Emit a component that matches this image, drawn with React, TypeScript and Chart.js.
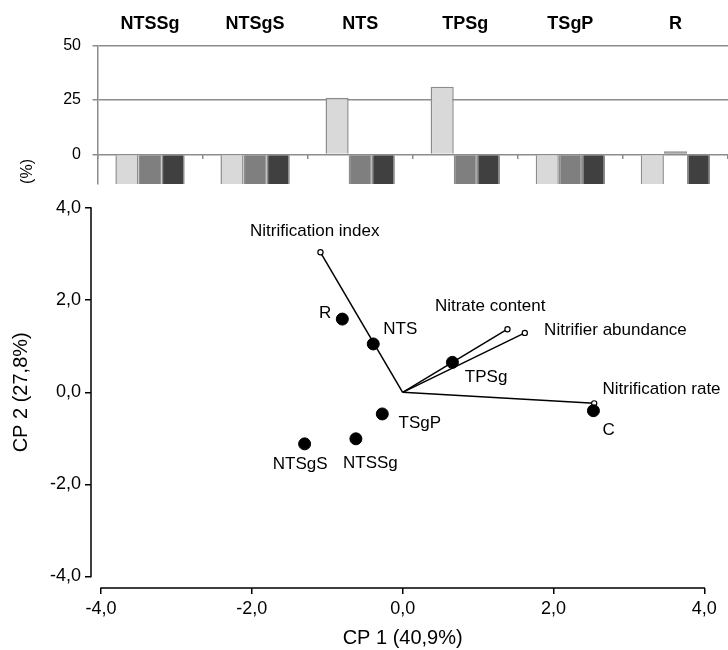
import React, { useEffect, useRef } from 'react';
import { Chart, registerables } from 'chart.js';

Chart.register(...registerables);

const FONT = '"Liberation Sans", Arial, Helvetica, sans-serif';

// ---- Top panel: relative change (%) per treatment ----
const treatments = ['NTSSg', 'NTSgS', 'NTS', 'TPSg', 'TSgP', 'R'];
const barSeries1 = [-45, -45, 26, 31, -45, -45];
const barSeries2 = [-45, -45, -45, -45, -45, 1.5];
const barSeries3 = [-45, -45, -45, -45, -45, -45];
const barTicks = [0, 25, 50];

// ---- Bottom panel: PCA biplot ----
const sampleNames = ['NTSSg', 'NTSgS', 'NTS', 'TPSg', 'TSgP', 'R', 'C'];
const sampleCP1 = [-0.62, -1.3, -0.39, 0.66, -0.27, -0.8, 2.53];
const sampleCP2 = [-1.01, -1.12, 1.05, 0.65, -0.47, 1.59, -0.4];
const variableNames = ['Nitrification index', 'Nitrate content', 'Nitrifier abundance', 'Nitrification rate'];
const variableCP1 = [-1.09, 1.39, 1.62, 2.54];
const variableCP2 = [3.04, 1.37, 1.29, -0.24];
const pcaTicks = [-4, -2, 0, 2, 4];

// label placement (text anchor, offset in px from the mark)
const sampleLabelPlacement: [CanvasTextAlign, number, number][] = [
  ['center', 14.5, 25],
  ['center', -4.5, 20.3],
  ['left', 10, -14.3],
  ['left', 12.4, 15.2],
  ['left', 16.3, 9.3],
  ['right', -11, -5.3],
  ['left', 9, 19.3],
];
const variableLabelPlacement: [CanvasTextAlign, number, number][] = [
  ['center', -5.7, -20.6],
  ['center', -17.3, -22.6],
  ['left', 19.3, -2.2],
  ['left', 8.3, -14.5],
];

const fmt = (v: number) => Number(v).toFixed(1).replace('.', ',');

const labelsPlugin = {
  id: 'pcaLabels',
  afterDatasetsDraw(chart: any) {
    const ctx = chart.ctx;
    ctx.save();
    ctx.font = `17px ${FONT}`;
    ctx.fillStyle = '#000';
    ctx.textBaseline = 'middle';
    const sMeta = chart.getDatasetMeta(0);
    sampleNames.forEach((name, i) => {
      const el = sMeta.data[i];
      const [align, dx, dy] = sampleLabelPlacement[i];
      ctx.textAlign = align;
      ctx.fillText(name, el.x + dx, el.y + dy);
    });
    variableNames.forEach((name, i) => {
      const el = chart.getDatasetMeta(i + 1).data[1];
      const [align, dx, dy] = variableLabelPlacement[i];
      ctx.textAlign = align;
      ctx.fillText(name, el.x + dx, el.y + dy);
    });
    ctx.restore();
  },
};

const axisLinesPlugin = {
  id: 'pcaAxisLines',
  beforeDatasetsDraw(chart: any) {
    const { ctx, chartArea, scales } = chart;
    const first = pcaTicks[0];
    const last = pcaTicks[pcaTicks.length - 1];
    ctx.save();
    ctx.strokeStyle = '#000';
    ctx.lineWidth = 1.5;
    ctx.beginPath();
    ctx.moveTo(chartArea.left, scales.y.getPixelForValue(last) - 0.75);
    ctx.lineTo(chartArea.left, scales.y.getPixelForValue(first) + 0.75);
    ctx.moveTo(scales.x.getPixelForValue(first) - 0.75, chartArea.bottom);
    ctx.lineTo(scales.x.getPixelForValue(last) + 0.75, chartArea.bottom);
    ctx.stroke();
    ctx.restore();
  },
};

export default function App() {
  const topRef = useRef<HTMLCanvasElement>(null);
  const pcaRef = useRef<HTMLCanvasElement>(null);

  useEffect(() => {
    Chart.defaults.font.family = FONT;
    Chart.defaults.color = '#000';

    const gray = '#8c8c8c';
    const top = new Chart(topRef.current as HTMLCanvasElement, {
      type: 'bar',
      data: {
        labels: treatments,
        datasets: [
          { data: barSeries1, backgroundColor: '#d9d9d9', borderColor: gray, borderWidth: 1.5 },
          { data: barSeries2, backgroundColor: '#7f7f7f', borderColor: gray, borderWidth: 1.5 },
          { data: barSeries3, backgroundColor: '#404040', borderColor: gray, borderWidth: 1.5 },
        ],
      },
      options: {
        responsive: false,
        animation: false,
        layout: { padding: 0 },
        datasets: { bar: { categoryPercentage: 0.66, barPercentage: 1 } },
        plugins: { legend: { display: false }, tooltip: { enabled: false } },
        scales: {
          x: {
            type: 'category',
            position: { y: 0 } as any,
            offset: true,
            afterFit: (s: any) => { s.height = 0; },
            grid: { offset: true, drawOnChartArea: false, drawTicks: true, tickLength: 5, color: gray, lineWidth: 1.5 },
            border: { display: false },
            ticks: { display: false },
          },
          x2: {
            type: 'category',
            position: 'top',
            offset: true,
            afterFit: (s: any) => { s.height = 45.3; },
            grid: { display: false },
            border: { display: false },
            ticks: { font: { size: 18, weight: 'bold' }, padding: 2.5, color: '#000', maxRotation: 0, autoSkip: false },
          },
          y: {
            min: -13.5,
            max: 50,
            afterBuildTicks: (s: any) => { s.ticks = barTicks.map((v) => ({ value: v })); },
            afterFit: (s: any) => { s.width = 97.5; },
            grid: { color: gray, lineWidth: 1.5, tickLength: 5 },
            border: { color: gray, width: 1.5 },
            ticks: { font: { size: 16 }, padding: 11.5, color: '#000' },
            title: { display: true, text: '(%)', align: 'start', font: { size: 16 }, padding: { top: 18.4, bottom: 0 }, color: '#000' },
          },
        },
      } as any,
    });

    const pca = new Chart(pcaRef.current as HTMLCanvasElement, {
      type: 'scatter',
      data: {
        datasets: [
          {
            label: 'Samples',
            data: sampleCP1.map((x, i) => ({ x, y: sampleCP2[i] })),
            backgroundColor: '#000',
            borderColor: '#000',
            pointRadius: 6,
            pointHoverRadius: 6,
            showLine: false,
          },
          ...variableNames.map((name, i) => ({
            label: name,
            data: [{ x: 0, y: 0 }, { x: variableCP1[i], y: variableCP2[i] }],
            showLine: true,
            borderColor: '#000',
            borderWidth: 1.5,
            pointRadius: [0, 2.6],
            pointHoverRadius: [0, 2.6],
            pointBackgroundColor: '#fff',
            pointBorderColor: '#000',
            pointBorderWidth: 1.2,
            clip: false,
          })),
        ],
      },
      options: {
        responsive: false,
        animation: false,
        layout: { padding: { top: 196.6, right: 13.7, left: 0, bottom: 0 } },
        plugins: { legend: { display: false }, tooltip: { enabled: false } },
        scales: {
          x: {
            type: 'linear',
            min: -4.133,
            max: 4.133,
            afterBuildTicks: (s: any) => { s.ticks = pcaTicks.map((v) => ({ value: v })); },
            afterFit: (s: any) => { s.height = 62; },
            border: { display: false },
            grid: { drawOnChartArea: false, drawTicks: true, tickLength: 6, color: '#000', lineWidth: 1.5 },
            ticks: { font: { size: 18 }, padding: 4, color: '#000', maxRotation: 0, callback: (v: any) => fmt(v) },
            title: { display: true, text: 'CP 1 (40,9%)', font: { size: 20 }, color: '#000', padding: { top: 0, bottom: 0 } },
          },
          y: {
            type: 'linear',
            min: -4.25,
            max: 4.25,
            afterBuildTicks: (s: any) => { s.ticks = pcaTicks.map((v) => ({ value: v })); },
            afterFit: (s: any) => { s.width = 91; },
            border: { display: false },
            grid: { drawOnChartArea: false, drawTicks: true, tickLength: 6, color: '#000', lineWidth: 1.5 },
            ticks: { font: { size: 18 }, padding: 4, color: '#000', callback: (v: any) => fmt(v) },
            title: { display: true, text: 'CP 2 (27,8%)', font: { size: 20 }, color: '#000', padding: { top: 9, bottom: 0 } },
          },
        },
      } as any,
      plugins: [axisLinesPlugin, labelsPlugin],
    });

    return () => {
      top.destroy();
      pca.destroy();
    };
  }, []);

  return (
    <div style={{ position: 'absolute', left: 0, top: 0, width: 728, height: 650, background: '#fff' }}>
      <canvas ref={topRef} width={728} height={205} style={{ position: 'absolute', left: 0, top: 0, width: 728, height: 205 }} />
      <canvas ref={pcaRef} width={728} height={650} style={{ position: 'absolute', left: 0, top: 0, width: 728, height: 650 }} />
    </div>
  );
}
